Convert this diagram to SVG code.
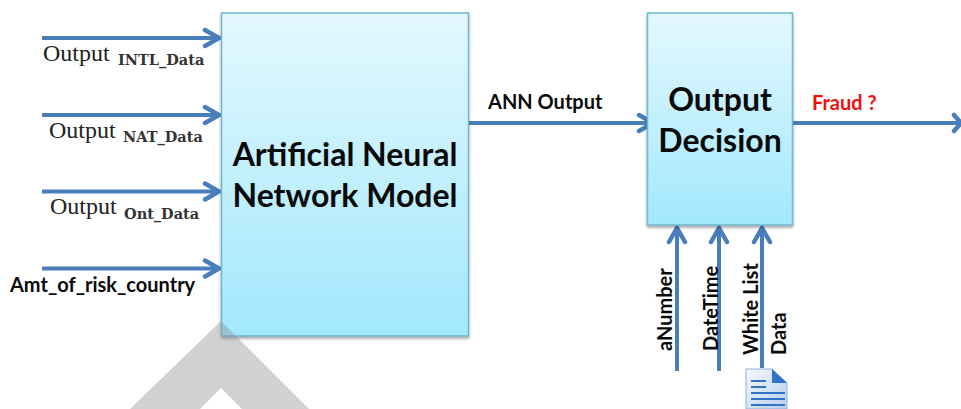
<svg xmlns="http://www.w3.org/2000/svg" width="961" height="409" viewBox="0 0 961 409">
<style>
.box{fill:url(#boxFill);stroke:#6fb7cc;stroke-width:1.5;filter:url(#shadow)}
.t{font-family:"Lato","Open Sans",sans-serif;font-weight:700;fill:#0a0a0a}
.big{font-size:32px;text-anchor:middle}
.mid{font-size:20px}
.m{font-family:"Liberation Serif",serif;font-size:24px;fill:#222}
.sub{font-family:"DejaVu Serif",serif;font-size:14.5px;font-weight:700;fill:#333}
.c{fill:none;stroke:#4a7ebb;stroke-width:4}
.h{fill:none;stroke:#4a7ebb;stroke-width:4.5;stroke-linecap:round;stroke-linejoin:miter}
</style>
<defs>
<linearGradient id="boxFill" x1="0" y1="0" x2="0" y2="1"><stop offset="0" stop-color="#e3f8fe"/><stop offset="1" stop-color="#a2e8fd"/></linearGradient>
<filter id="shadow" x="-5%" y="-5%" width="110%" height="110%"><feDropShadow dx="0" dy="2" stdDeviation="1.5" flood-color="#000" flood-opacity="0.35"/></filter>
<linearGradient id="doc" x1="0" y1="0" x2="1" y2="1"><stop offset="0" stop-color="#f4f8fd"/><stop offset="1" stop-color="#b8cfee"/></linearGradient>
</defs>
<rect width="961" height="409" fill="#fff"/>
<g id="connectors">
<path class="c" d="M42 38H219M42 115H219M42 191.500H219M42 268.500H219M469 123H653M793 123H961M677 371V228M719 371V228M762 368V228"/>
<path class="h" d="M205 30L219 38L205 46M205 107L219 115L205 123M205 183.500L219 191.500L205 199.500M205 260.500L219 268.500L205 276.500M639 115L653 123L639 131M954 115L961 123L954 131M669 242L677 228L685 242M711 242L719 228L727 242M754 242L762 228L770 242"/>
</g>
<g id="node-ann"><rect class="box" x="221.500" y="13" width="247" height="323"/>
<text class="t big" x="345" y="166">Artificial Neural</text><text class="t big" x="345" y="207">Network Model</text></g>
<g id="node-decision"><rect class="box" x="647.500" y="13" width="145" height="212"/>
<text class="t big" x="720" y="111">Output</text><text class="t big" x="720" y="152">Decision</text></g>
<g id="label-intl"><text class="m" x="43" y="61">Output</text><text class="sub" x="118" y="65">INTL_Data</text></g>
<g id="label-nat"><text class="m" x="49" y="138">Output</text><text class="sub" x="123" y="142">NAT_Data</text></g>
<g id="label-ont"><text class="m" x="50" y="214">Output</text><text class="sub" x="124" y="219">Ont_Data</text></g>
<text class="t mid" x="10" y="292">Amt_of_risk_country</text>
<text class="t mid" x="488" y="109">ANN Output</text>
<text class="t mid" x="812" y="110" style="fill:#f01010">Fraud ?</text>
<text class="t mid" transform="translate(672,351) rotate(-90)">aNumber</text>
<text class="t mid" transform="translate(718,351) rotate(-90)">DateTime</text>
<text class="t mid" transform="translate(758,355) rotate(-90)">White List</text>
<text class="t mid" transform="translate(786,355) rotate(-90)">Data</text>
<g id="document">
<path d="M746 369H772L787 383V409H746Z" fill="url(#doc)" stroke="#8fb0dc"/>
<path d="M772 369L787 383H772Z" fill="#2f74c8"/>
<path d="M751 381H766M751 387H766M751 393H785M751 399H785M751 405H785" stroke="#2f74c8" stroke-width="2" fill="none"/>
</g>
<path id="watermark" d="M221 321L309 409H242L221 388L200 409H130Z" fill="#8c8c8c" fill-opacity="0.4"/>
</svg>
